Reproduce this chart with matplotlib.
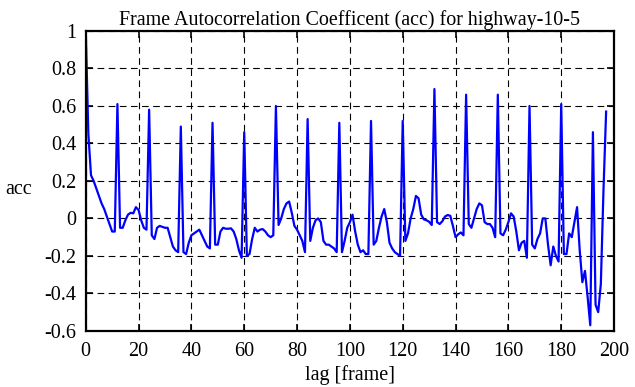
import matplotlib
matplotlib.use('Agg')
import matplotlib.pyplot as plt

# autocorrelation per lag (0..197)
acc = [
    1.00, 0.45, 0.23, 0.20, 0.16, 0.12, 0.08, 0.05, 0.01, -0.03,
    -0.07, -0.07, 0.61, -0.05, -0.05, -0.01, 0.02, 0.03, 0.027, 0.06,
    0.045, -0.01, -0.05, -0.06, 0.58, -0.09, -0.11, -0.05, -0.04, -0.045,
    -0.05, -0.05, -0.10, -0.15, -0.17, -0.18, 0.49, -0.18, -0.19, -0.13,
    -0.09, -0.08, -0.07, -0.06, -0.09, -0.12, -0.15, -0.16, 0.51, -0.14,
    -0.14, -0.07, -0.05, -0.055, -0.055, -0.053, -0.07, -0.11, -0.17, -0.21,
    0.46, -0.20, -0.19, -0.11, -0.05, -0.07, -0.06, -0.057, -0.07, -0.09,
    -0.10, -0.09, 0.60, -0.035, 0.00, 0.05, 0.08, 0.09, 0.03, -0.04,
    -0.06, -0.09, -0.12, -0.18, 0.53, -0.12, -0.05, -0.01, 0.00, -0.02,
    -0.12, -0.14, -0.14, -0.15, -0.16, -0.18, 0.51, -0.18, -0.12, -0.05,
    -0.02, 0.02, -0.07, -0.14, -0.18, -0.17, -0.19, -0.19, 0.52, -0.14,
    -0.12, -0.05, 0.01, 0.05, -0.02, -0.13, -0.16, -0.18, -0.19, -0.20,
    0.52, -0.12, -0.08, 0.00, 0.05, 0.12, 0.107, 0.02, -0.005, -0.01,
    -0.018, -0.035, 0.69, -0.02, -0.03, -0.015, 0.01, 0.018, 0.014, -0.04,
    -0.10, -0.085, -0.075, -0.09, 0.66, -0.03, -0.05, 0.00, 0.05, 0.08,
    0.07, -0.02, -0.03, -0.03, -0.05, -0.10, 0.66, -0.08, -0.09, -0.06,
    -0.02, 0.027, 0.01, -0.07, -0.17, -0.13, -0.12, -0.21, 0.60, -0.14,
    -0.16, -0.11, -0.08, 0.00, 0.00, -0.14, -0.25, -0.15, -0.20, -0.23,
    0.61, -0.19, -0.19, -0.08, -0.10, -0.02, 0.06, -0.17, -0.34, -0.28,
    -0.42, -0.57, 0.46, -0.46, -0.50, -0.35, 0.15, 0.57,
]
lags = list(range(len(acc)))

xticks = list(range(0, 201, 20))
yticks = [-0.6, -0.4, -0.2, 0, 0.2, 0.4, 0.6, 0.8, 1]
ytick_labels = ['-0.6', '-0.4', '-0.2', '0', '0.2', '0.4', '0.6', '0.8', '1']

plt.rcParams['font.family'] = ['Liberation Serif', 'DejaVu Serif']
plt.rcParams['font.size'] = 14.5

fig = plt.figure(figsize=(6.35, 3.87), dpi=100)
ax = fig.add_axes([0.135, 0.145, 0.832, 0.775])

ax.plot(lags, acc, color='#0000ff', linewidth=1.6)

ax.set_xlim(0, 200)
ax.set_ylim(-0.6, 1)
ax.set_xticks(xticks)
ax.set_yticks(yticks)
ax.set_yticklabels(ytick_labels)
ax.grid(True, color='black', linestyle=(0, (6, 4)), linewidth=0.8)
ax.tick_params(direction='in', length=5, width=1.2, top=True, right=True)
ax.tick_params(axis='x', pad=8)
ax.tick_params(axis='y', pad=7)
for s in ax.spines.values():
    s.set_linewidth(1.6)

ax.set_title('Frame Autocorrelation Coefficent (acc) for highway-10-5', fontsize=14.4, pad=4)
ax.set_xlabel('lag [frame]', labelpad=3)
ax.set_ylabel('acc', rotation=0, va='center')
ax.yaxis.set_label_coords(-0.128, 0.47)

fig.savefig('out.png', dpi=100)
